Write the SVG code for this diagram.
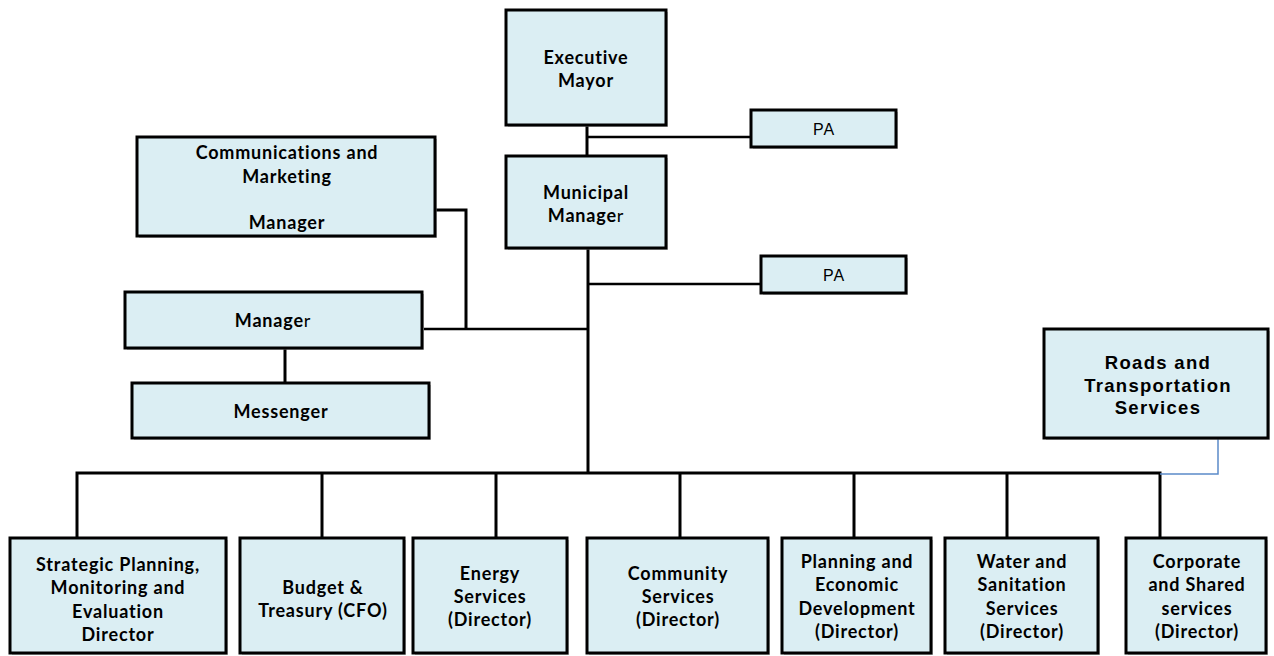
<svg xmlns="http://www.w3.org/2000/svg" width="1274" height="656" viewBox="0 0 1274 656">
<style>
.box{fill:#DBEEF3;stroke:#000;stroke-width:3}
.sh{fill:#9a9a9a;opacity:0.6}
.t{font-family:Lato,"Open Sans",sans-serif;font-weight:bold;font-size:18px;letter-spacing:0.8px;text-anchor:middle;fill:#000}
.n{font-weight:normal}
.a{font-family:"Liberation Sans",Arial,sans-serif;font-weight:bold;font-size:18.5px;letter-spacing:1.3px;text-anchor:middle;fill:#000}
.p{font-family:"Liberation Sans",Arial,sans-serif;font-size:16px;letter-spacing:1px;text-anchor:middle;fill:#000}
.c{fill:none;stroke:#000;stroke-width:3}
.c2{fill:none;stroke:#000;stroke-width:2.5}
</style>
<rect width="1274" height="656" fill="#fff"/>
<g id="connectors">
<path class="c" d="M587 125V156"/>
<path class="c2" d="M587 137H751"/>
<path class="c" d="M588 248V474"/>
<path class="c2" d="M588 284H761"/>
<path class="c" d="M436 210H466V329"/>
<path class="c2" d="M424 329H588"/>
<path class="c" d="M285 348V383"/>
<path class="c" d="M77 538V473H1160V538"/>
<path class="c" d="M322 473V538M496 473V538M680 473V538M854 473V538M1007 473V538"/>
<path d="M1218 438V474H1160" fill="none" stroke="#5B8BC9" stroke-width="1.5"/>
</g>
<g id="mayor">
<rect class="sh" x="508" y="12" width="160" height="115"/>
<rect class="box" x="506" y="10" width="160" height="115"/>
<text class="t" x="586" y="63.5">Executive</text>
<text class="t" x="586" y="86.5">Mayor</text>
</g>
<g id="pa1">
<rect class="sh" x="753" y="112" width="145" height="37"/>
<rect class="box" x="751" y="110" width="145" height="37"/>
<text class="p" x="824" y="135">PA</text>
</g>
<g id="municipal-manager">
<rect class="sh" x="508" y="158" width="160" height="92"/>
<rect class="box" x="506" y="156" width="160" height="92"/>
<text class="t" x="586" y="198.5">Municipal</text>
<text class="t" x="586" y="221.5">Manage<tspan class="n">r</tspan></text>
</g>
<g id="pa2">
<rect class="sh" x="763" y="258" width="145" height="37"/>
<rect class="box" x="761" y="256" width="145" height="37"/>
<text class="p" x="834" y="280.5">PA</text>
</g>
<g id="comms">
<rect class="sh" x="139" y="139" width="298" height="99"/>
<rect class="box" x="137" y="137" width="298" height="99"/>
<text class="t" x="287" y="158.5">Communications and</text>
<text class="t" x="287" y="182.5">Marketing</text>
<text class="t" x="287" y="228.5">Manager</text>
</g>
<g id="manager">
<rect class="sh" x="127" y="294" width="297" height="56"/>
<rect class="box" x="125" y="292" width="297" height="56"/>
<text class="t" x="273" y="327">Manage<tspan class="n">r</tspan></text>
</g>
<g id="messenger">
<rect class="sh" x="134" y="385" width="297" height="55"/>
<rect class="box" x="132" y="383" width="297" height="55"/>
<text class="t" x="281" y="418">Messenger</text>
</g>
<g id="roads">
<rect class="sh" x="1046" y="331" width="224" height="109"/>
<rect class="box" x="1044" y="329" width="224" height="109"/>
<text class="a" x="1158" y="368.5">Roads and</text>
<text class="a" x="1158" y="391.5">Transportation</text>
<text class="a" x="1158" y="414">Services</text>
</g>
<g id="strategic">
<rect class="sh" x="12" y="540" width="216" height="115"/>
<rect class="box" x="10" y="538" width="216" height="115"/>
<text class="t" x="118" y="571">Strategic Planning,</text>
<text class="t" x="118" y="594">Monitoring and</text>
<text class="t" x="118" y="617.5">Evaluation</text>
<text class="t" x="118" y="640.5">Director</text>
</g>
<g id="budget">
<rect class="sh" x="242" y="540" width="164" height="115"/>
<rect class="box" x="240" y="538" width="164" height="115"/>
<text class="t" x="323" y="593.5">Budget &amp;</text>
<text class="t" x="323" y="616.5">Treasury (CFO)</text>
</g>
<g id="energy">
<rect class="sh" x="415" y="540" width="154" height="115"/>
<rect class="box" x="413" y="538" width="154" height="115"/>
<text class="t" x="490" y="579.5">Energy</text>
<text class="t" x="490" y="602.5">Services</text>
<text class="t" x="490" y="626">(Director)</text>
</g>
<g id="community">
<rect class="sh" x="589" y="540" width="181" height="115"/>
<rect class="box" x="587" y="538" width="181" height="115"/>
<text class="t" x="678" y="579.5">Community</text>
<text class="t" x="678" y="602.5">Services</text>
<text class="t" x="678" y="626">(Director)</text>
</g>
<g id="planning">
<rect class="sh" x="784" y="540" width="149" height="115"/>
<rect class="box" x="782" y="538" width="149" height="115"/>
<text class="t" x="857" y="567.5">Planning and</text>
<text class="t" x="857" y="590.5">Economic</text>
<text class="t" x="857" y="614.5">Development</text>
<text class="t" x="857" y="637.5">(Director)</text>
</g>
<g id="water">
<rect class="sh" x="947" y="540" width="153" height="115"/>
<rect class="box" x="945" y="538" width="153" height="115"/>
<text class="t" x="1022" y="567.5">Water and</text>
<text class="t" x="1022" y="590.5">Sanitation</text>
<text class="t" x="1022" y="614.5">Services</text>
<text class="t" x="1022" y="637.5">(Director)</text>
</g>
<g id="corporate">
<rect class="sh" x="1128" y="540" width="140" height="115"/>
<rect class="box" x="1126" y="538" width="140" height="115"/>
<text class="t" x="1197" y="567.5">Corporate</text>
<text class="t" x="1197" y="590.5">and Shared</text>
<text class="t" x="1197" y="614.5">services</text>
<text class="t" x="1197" y="637.5">(Director)</text>
</g>
</svg>
